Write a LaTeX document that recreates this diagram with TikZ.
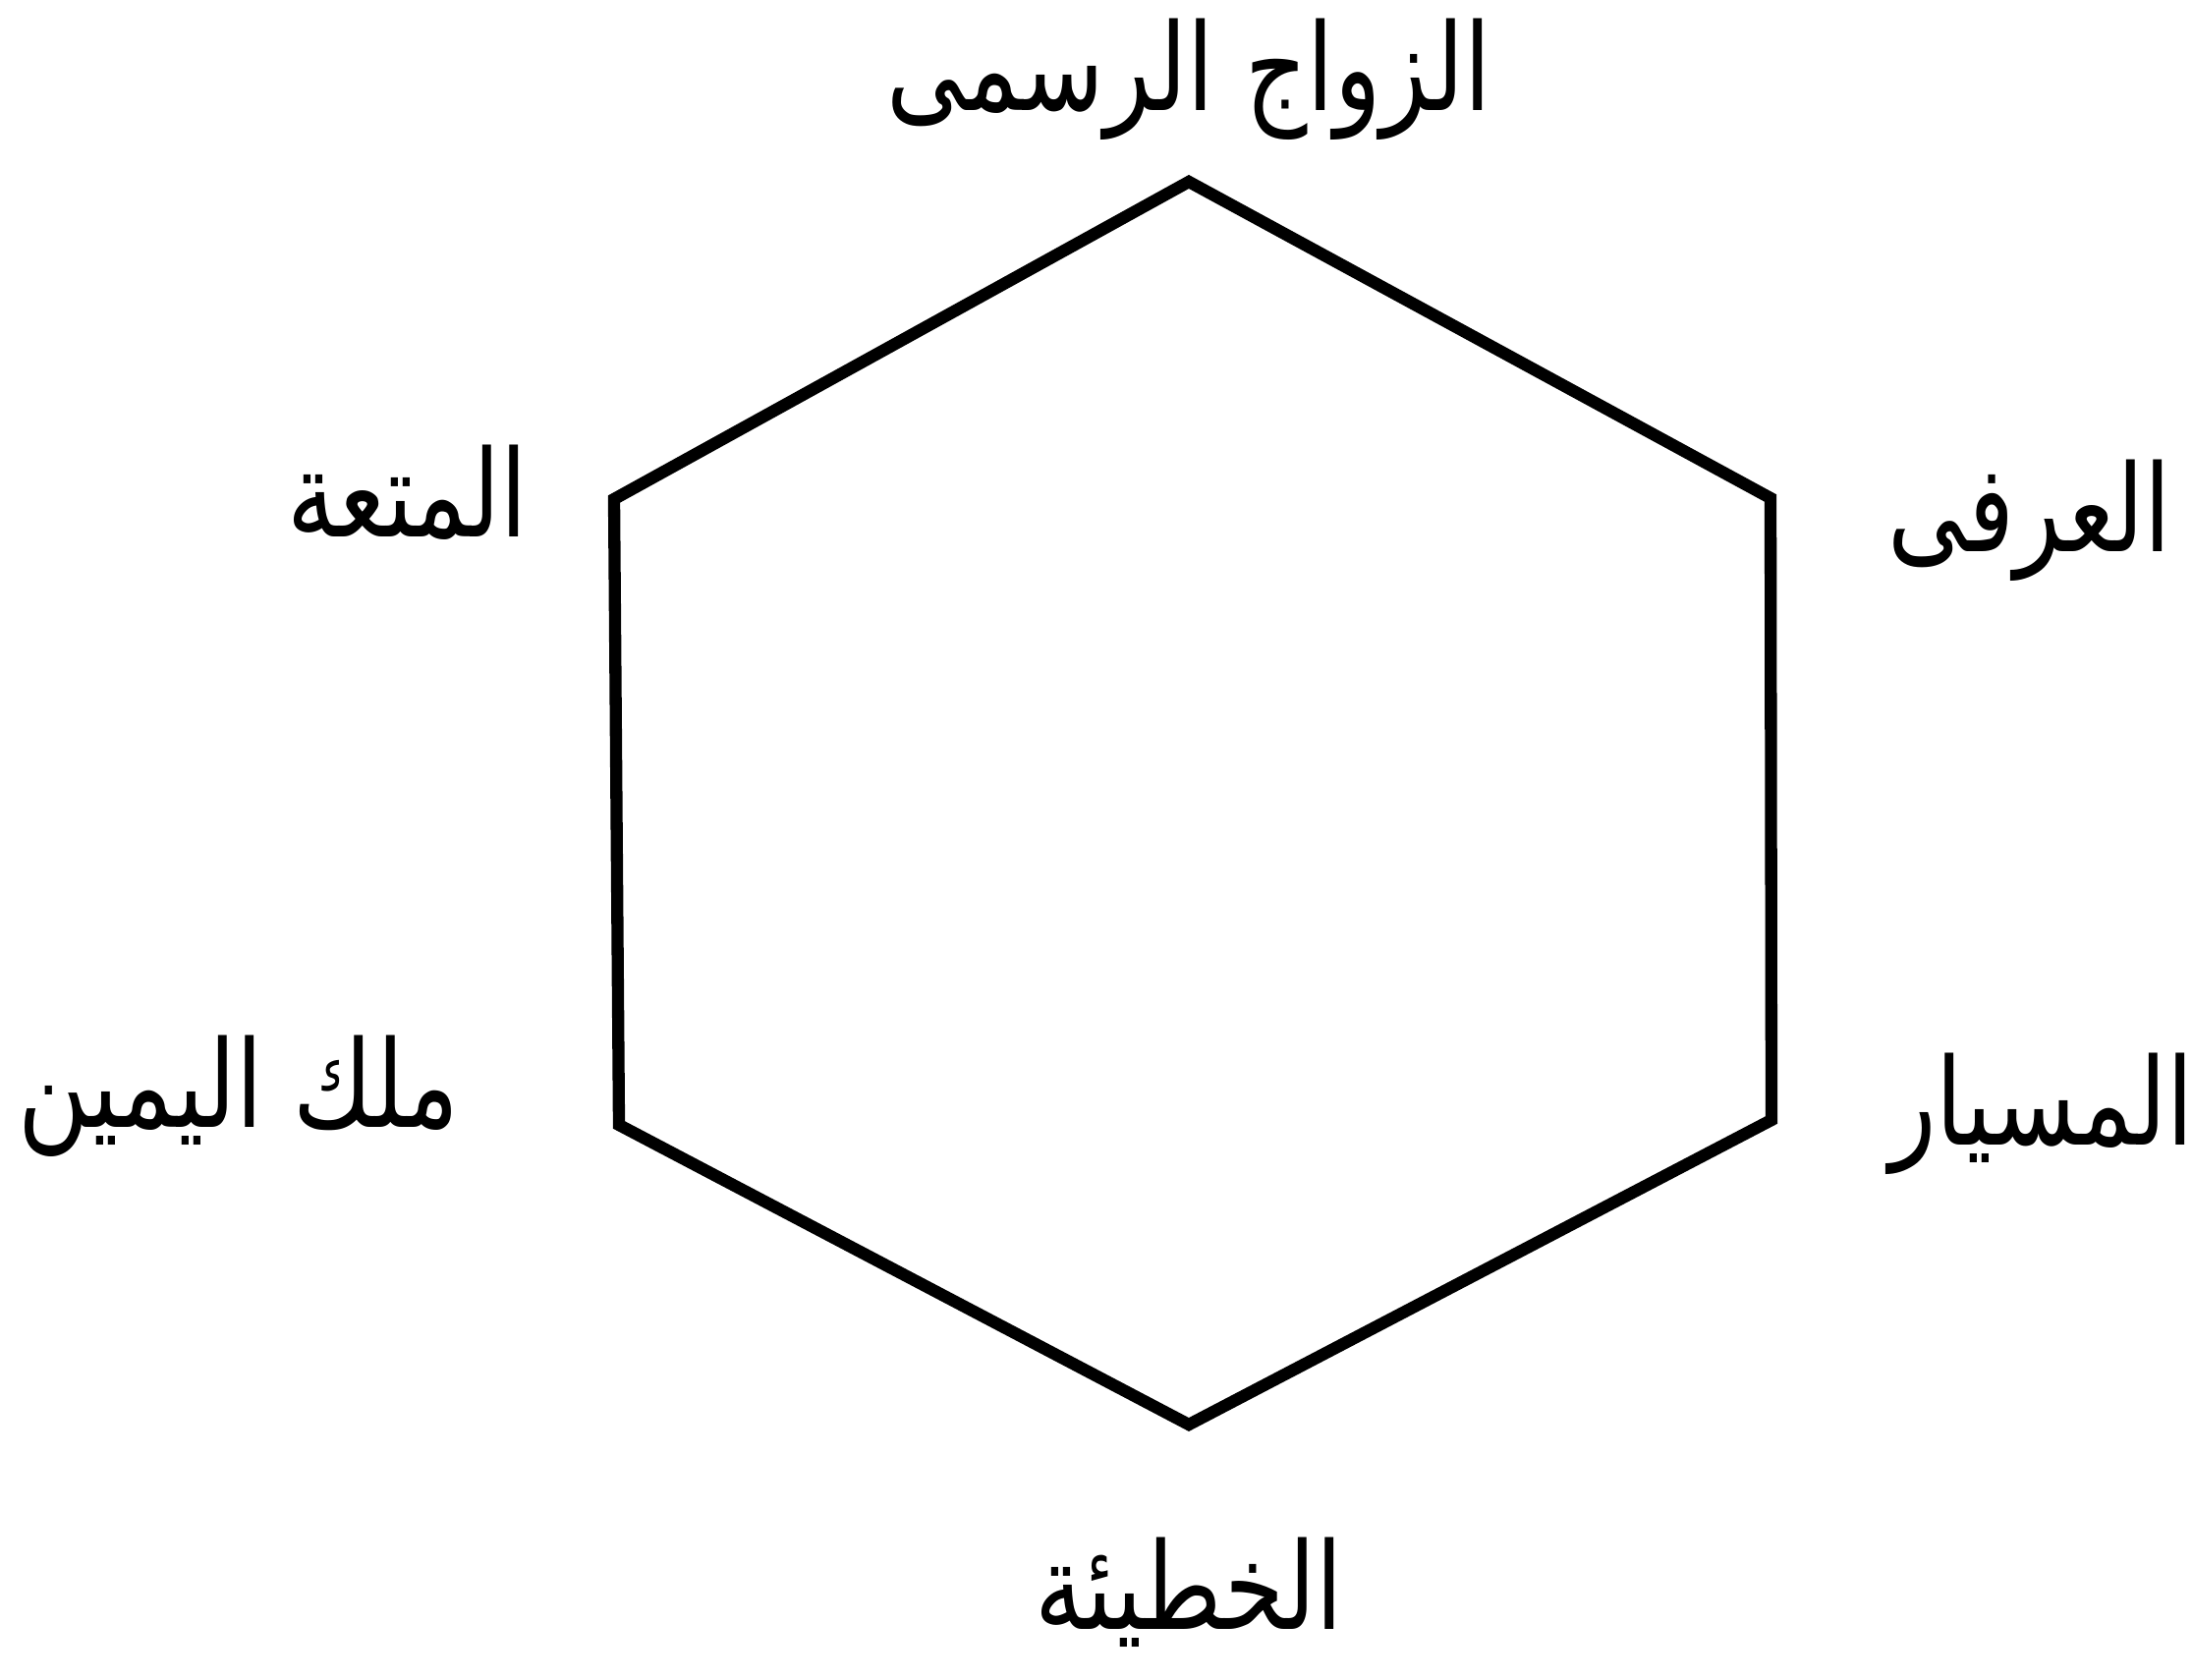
\documentclass[tikz,border=0pt]{standalone}
\usepackage{fontspec}
\newfontfamily\arabicfont[Script=Arabic,FakeStretch=0.8]{DejaVu Sans}
\TeXXeTstate=1
\begin{document}
\begin{tikzpicture}[x=0.01cm,y=-0.01cm,
  lbl/.style={font=\arabicfont\fontsize{35}{40}\selectfont, anchor=base, inner sep=0pt},
  hex/.style={line width=3.5pt, line join=miter}]
\useasboundingbox[fill=white] (0,0) rectangle (2231,1710);
\coordinate (T) at (1210,185);
\coordinate (UR) at (1802,507);
\coordinate (LR) at (1803,1140);
\coordinate (B) at (1210,1450);
\coordinate (LL) at (630,1145);
\coordinate (UL) at (625,508);
\draw[hex] (T) -- (UR) -- (LR) -- (B) -- (LL) -- (UL) -- cycle;
\node[lbl] (top) at (1210,113) {\beginR الزواج الرسمى\endR};
\node[lbl] (mut) at (415,547) {\beginR المتعة\endR};
\node[lbl] (urf) at (2066,562) {\beginR العرفى\endR};
\node[lbl] (milk) at (243,1147) {\beginR ملك اليمين\endR};
\node[lbl] (mis) at (2078,1165) {\beginR المسيار\endR};
\node[lbl] (kha) at (1210,1658) {\beginR الخطيئة\endR};
\end{tikzpicture}
\end{document}
